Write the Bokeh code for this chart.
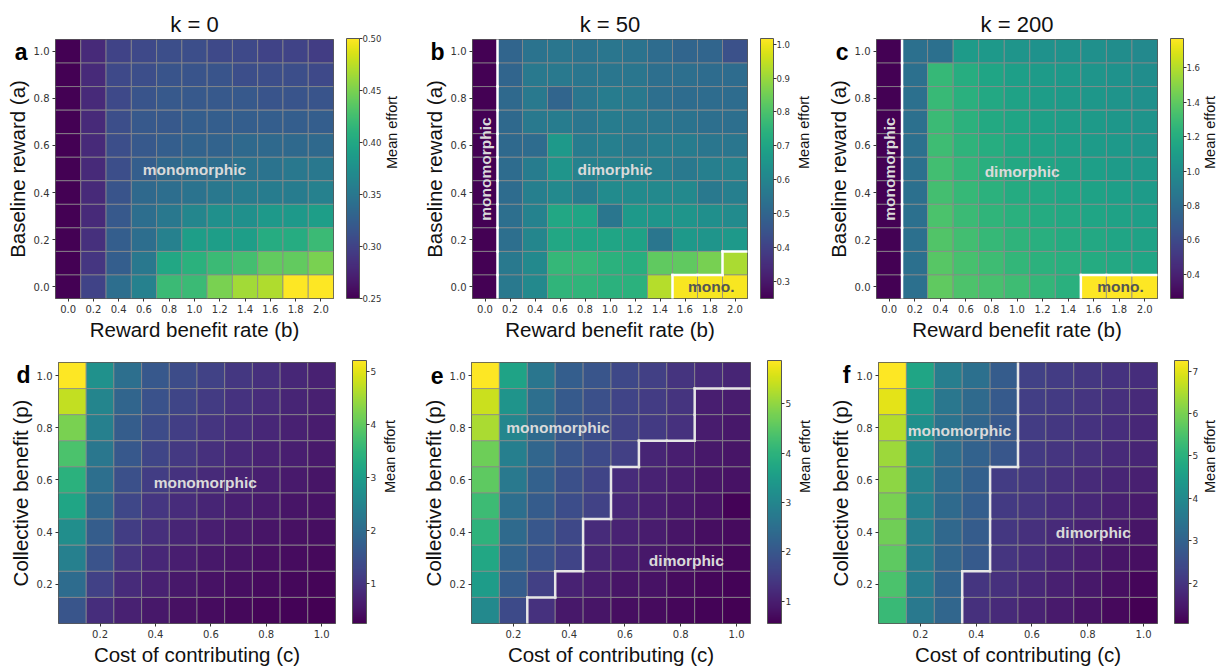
import math
from bokeh.plotting import figure
from bokeh.models import (ColumnDataSource, LinearColorMapper, ColorBar, FixedTicker,
                          Label, Range1d, LinearAxis, PrintfTickFormatter,
                          CustomJSTickFormatter)
from bokeh.palettes import Viridis256
from bokeh.layouts import column, row
from bokeh.embed import file_html
from bokeh.resources import INLINE

# ---------------- parameter values (cell centres) ----------------
reward_b = [0.0, 0.2, 0.4, 0.6, 0.8, 1.0, 1.2, 1.4, 1.6, 1.8, 2.0]
baseline_a = [0.0, 0.1, 0.2, 0.3, 0.4, 0.5, 0.6, 0.7, 0.8, 0.9, 1.0]
cost_c = [0.1, 0.2, 0.3, 0.4, 0.5, 0.6, 0.7, 0.8, 0.9, 1.0]
benefit_p = [0.1, 0.2, 0.3, 0.4, 0.5, 0.6, 0.7, 0.8, 0.9, 1.0]

ticks_b = [0.0, 0.2, 0.4, 0.6, 0.8, 1.0, 1.2, 1.4, 1.6, 1.8, 2.0]
ticks_a = [0.0, 0.2, 0.4, 0.6, 0.8, 1.0]
ticks_c = [0.2, 0.4, 0.6, 0.8, 1.0]
ticks_p = [0.2, 0.4, 0.6, 0.8, 1.0]

cbar_ticks_a = [0.25, 0.30, 0.35, 0.40, 0.45, 0.50]
cbar_ticks_b = [0.3, 0.4, 0.5, 0.6, 0.7, 0.8, 0.9, 1.0]
cbar_ticks_c = [0.4, 0.6, 0.8, 1.0, 1.2, 1.4, 1.6]
cbar_ticks_d = [1, 2, 3, 4, 5]
cbar_ticks_e = [1, 2, 3, 4, 5]
cbar_ticks_f = [2, 3, 4, 5, 6, 7]

# ---------------- mean effort (rows listed from top of panel to bottom) ----------------
# panel a: k = 0, rows a = 1.0 ... 0.0, columns b = 0.0 ... 2.0
effort_a = [
    [0.25, 0.28, 0.300, 0.305, 0.310, 0.310, 0.305, 0.305, 0.300, 0.300, 0.295],
    [0.25, 0.28, 0.305, 0.310, 0.315, 0.315, 0.315, 0.310, 0.310, 0.310, 0.305],
    [0.25, 0.28, 0.305, 0.315, 0.320, 0.320, 0.320, 0.320, 0.315, 0.315, 0.315],
    [0.25, 0.28, 0.310, 0.320, 0.320, 0.325, 0.325, 0.325, 0.325, 0.325, 0.325],
    [0.25, 0.28, 0.310, 0.320, 0.325, 0.330, 0.330, 0.335, 0.335, 0.335, 0.335],
    [0.25, 0.28, 0.310, 0.325, 0.335, 0.340, 0.340, 0.345, 0.345, 0.350, 0.350],
    [0.25, 0.28, 0.315, 0.335, 0.340, 0.345, 0.350, 0.355, 0.355, 0.355, 0.360],
    [0.25, 0.28, 0.320, 0.340, 0.350, 0.365, 0.375, 0.375, 0.385, 0.385, 0.390],
    [0.25, 0.285, 0.325, 0.340, 0.360, 0.390, 0.390, 0.390, 0.405, 0.405, 0.420],
    [0.25, 0.29, 0.325, 0.350, 0.400, 0.410, 0.420, 0.425, 0.440, 0.440, 0.450],
    [0.25, 0.30, 0.340, 0.360, 0.420, 0.420, 0.450, 0.465, 0.470, 0.500, 0.500],
]
# panel b: k = 50
effort_b = [
    [0.25, 0.50, 0.54, 0.55, 0.54, 0.55, 0.54, 0.52, 0.50, 0.50, 0.44],
    [0.25, 0.50, 0.56, 0.56, 0.55, 0.55, 0.55, 0.53, 0.53, 0.52, 0.52],
    [0.25, 0.51, 0.56, 0.50, 0.55, 0.57, 0.56, 0.53, 0.52, 0.52, 0.52],
    [0.25, 0.51, 0.56, 0.57, 0.55, 0.57, 0.56, 0.55, 0.54, 0.53, 0.53],
    [0.25, 0.51, 0.52, 0.66, 0.57, 0.58, 0.56, 0.57, 0.57, 0.55, 0.55],
    [0.25, 0.52, 0.57, 0.65, 0.59, 0.59, 0.59, 0.58, 0.56, 0.58, 0.59],
    [0.25, 0.52, 0.58, 0.61, 0.57, 0.62, 0.62, 0.61, 0.61, 0.56, 0.58],
    [0.25, 0.53, 0.59, 0.71, 0.70, 0.55, 0.66, 0.65, 0.65, 0.63, 0.62],
    [0.25, 0.53, 0.60, 0.71, 0.70, 0.70, 0.69, 0.55, 0.66, 0.65, 0.66],
    [0.25, 0.56, 0.61, 0.76, 0.76, 0.74, 0.73, 0.83, 0.83, 0.86, 0.92],
    [0.25, 0.56, 0.61, 0.75, 0.75, 0.74, 0.74, 0.93, 1.01, 1.01, 1.01],
]
# panel c: k = 200
effort_c = [
    [0.26, 0.82, 0.82, 1.09, 1.07, 1.05, 1.03, 1.03, 1.02, 1.00, 0.97],
    [0.26, 0.82, 1.27, 1.20, 1.15, 1.11, 1.09, 1.07, 1.05, 1.03, 1.00],
    [0.26, 0.82, 1.28, 1.22, 1.17, 1.13, 1.10, 1.08, 1.06, 1.04, 1.02],
    [0.26, 0.82, 1.29, 1.23, 1.18, 1.15, 1.12, 1.10, 1.08, 1.06, 1.04],
    [0.26, 0.82, 1.30, 1.24, 1.20, 1.16, 1.13, 1.11, 1.09, 1.07, 1.05],
    [0.26, 0.82, 1.31, 1.26, 1.21, 1.17, 1.15, 1.13, 1.11, 1.09, 1.07],
    [0.26, 0.82, 1.32, 1.27, 1.23, 1.19, 1.17, 1.15, 1.13, 1.11, 1.09],
    [0.26, 0.82, 1.34, 1.29, 1.25, 1.22, 1.19, 1.17, 1.15, 1.13, 1.11],
    [0.26, 0.82, 1.36, 1.31, 1.27, 1.24, 1.21, 1.19, 1.17, 1.15, 1.13],
    [0.26, 0.82, 1.38, 1.33, 1.30, 1.26, 1.23, 1.21, 1.19, 1.17, 1.15],
    [0.26, 0.82, 1.40, 1.35, 1.33, 1.30, 1.26, 1.22, 1.77, 1.77, 1.77],
]
# panel d: k = 0, rows p = 1.0 ... 0.1, columns c = 0.1 ... 1.0
effort_d = [
    [5.20, 2.75, 2.05, 1.60, 1.40, 1.22, 1.05, 0.92, 0.80, 0.70],
    [4.75, 2.50, 1.85, 1.48, 1.28, 1.10, 0.97, 0.86, 0.76, 0.67],
    [4.20, 2.40, 1.70, 1.38, 1.16, 1.00, 0.89, 0.79, 0.70, 0.62],
    [3.80, 2.20, 1.60, 1.27, 1.06, 0.92, 0.81, 0.72, 0.65, 0.58],
    [3.40, 2.05, 1.45, 1.15, 0.96, 0.83, 0.74, 0.66, 0.59, 0.53],
    [3.15, 1.90, 1.30, 1.02, 0.86, 0.75, 0.66, 0.59, 0.53, 0.48],
    [2.70, 1.70, 1.15, 0.91, 0.76, 0.66, 0.58, 0.52, 0.47, 0.43],
    [2.40, 1.50, 1.00, 0.80, 0.66, 0.56, 0.50, 0.45, 0.40, 0.37],
    [2.00, 1.20, 0.85, 0.69, 0.56, 0.48, 0.42, 0.38, 0.34, 0.31],
    [1.55, 0.88, 0.70, 0.56, 0.46, 0.40, 0.35, 0.31, 0.28, 0.25],
]
# panel e: k = 50
effort_e = [
    [5.88, 3.65, 2.65, 2.15, 1.95, 1.70, 1.55, 1.35, 1.20, 1.10],
    [5.45, 3.30, 2.50, 2.05, 1.85, 1.65, 1.50, 1.35, 1.00, 0.95],
    [5.20, 3.00, 2.40, 2.00, 1.80, 1.60, 1.45, 1.30, 0.95, 0.90],
    [4.70, 2.85, 2.30, 1.95, 1.75, 1.55, 1.10, 1.00, 0.90, 0.85],
    [4.55, 2.70, 2.20, 1.85, 1.65, 1.20, 1.05, 0.95, 0.85, 0.80],
    [4.20, 2.50, 2.10, 1.80, 1.60, 1.15, 1.00, 0.90, 0.80, 0.60],
    [4.00, 2.40, 2.00, 1.70, 1.20, 1.05, 0.95, 0.85, 0.75, 0.70],
    [3.75, 2.25, 1.90, 1.65, 1.10, 1.00, 0.90, 0.80, 0.70, 0.65],
    [3.50, 2.10, 1.55, 1.05, 0.95, 0.85, 0.80, 0.70, 0.65, 0.60],
    [3.05, 1.75, 1.30, 0.90, 0.85, 0.75, 0.70, 0.65, 0.60, 0.55],
]
# panel f: k = 200
effort_f = [
    [7.25, 4.70, 3.70, 3.35, 2.85, 2.25, 2.15, 2.05, 1.95, 1.85],
    [7.00, 4.40, 3.50, 3.20, 2.80, 2.20, 2.10, 2.00, 1.90, 1.80],
    [6.55, 4.15, 3.40, 3.10, 2.75, 2.15, 2.05, 1.95, 1.85, 1.75],
    [6.35, 4.00, 3.30, 3.00, 2.70, 2.10, 2.00, 1.90, 1.80, 1.70],
    [6.20, 3.85, 3.25, 2.95, 2.15, 2.05, 1.90, 1.80, 1.70, 1.60],
    [6.00, 3.80, 3.20, 2.90, 2.10, 2.00, 1.85, 1.75, 1.60, 1.50],
    [5.90, 3.75, 3.15, 2.85, 2.05, 1.90, 1.80, 1.65, 1.50, 1.40],
    [5.70, 3.70, 3.10, 2.80, 2.00, 1.85, 1.70, 1.55, 1.40, 1.30],
    [5.50, 3.70, 3.05, 2.00, 1.90, 1.75, 1.60, 1.45, 1.30, 1.15],
    [5.25, 3.55, 3.10, 1.90, 1.80, 1.65, 1.50, 1.35, 1.20, 1.05],
]

# ---------------- regime of each cell (M = monomorphic, D = dimorphic) ----------------
regime_a = ["MMMMMMMMMMM"] * 11
regime_b = ["MDDDDDDDDDD"] * 9 + ["MDDDDDDDDDM", "MDDDDDDDMMM"]
regime_c = ["MDDDDDDDDDD"] * 10 + ["MDDDDDDDMMM"]
regime_d = ["MMMMMMMMMM"] * 10
regime_e = ["MMMMMMMMMM", "MMMMMMMMDD", "MMMMMMMMDD", "MMMMMMDDDD", "MMMMMDDDDD",
            "MMMMMDDDDD", "MMMMDDDDDD", "MMMMDDDDDD", "MMMDDDDDDD", "MMDDDDDDDD"]
regime_f = ["MMMMMDDDDD", "MMMMMDDDDD", "MMMMMDDDDD", "MMMMMDDDDD", "MMMMDDDDDD",
            "MMMMDDDDDD", "MMMMDDDDDD", "MMMMDDDDDD", "MMMDDDDDDD", "MMMDDDDDDD"]

LIGHT = "#dadada"
DARK = "#555555"
AX_FONT = "Liberation Sans"
TICK_FONT = "DejaVu Sans"


def panel(xvals, yvals, grid, regime, low, high, cticks, cfmt, xticks, yticks,
          xlabel, ylabel, letter, title, W, H, L, R, T, B, bcolor, texts, me_standoff,
          cb_style):
    dx = round(xvals[1] - xvals[0], 6)
    dy = round(yvals[1] - yvals[0], 6)
    nr = len(grid)
    xs, ys, vs = [], [], []
    for i, r in enumerate(grid):
        yv = yvals[nr - 1 - i]
        for j, v in enumerate(r):
            xs.append(xvals[j]); ys.append(yv); vs.append(v)
    src = ColumnDataSource(dict(x=xs, y=ys, v=vs))
    mapper = LinearColorMapper(palette=Viridis256, low=low, high=high)
    x0, x1 = xvals[0] - dx / 2, xvals[-1] + dx / 2
    y0, y1 = yvals[0] - dy / 2, yvals[-1] + dy / 2
    fw, fh = W - L - R, H - T - B

    kw = dict(width=W, height=H, x_range=Range1d(x0, x1), y_range=Range1d(y0, y1),
              output_backend="svg", toolbar_location=None,
              min_border_left=L, min_border_right=R, min_border_top=T, min_border_bottom=B)
    if title:
        kw["title"] = title
    p = figure(**kw)
    if title:
        p.title.align = "center"
        p.title.text_font = AX_FONT
        p.title.text_font_size = "22px"
        p.title.text_font_style = "normal"
        p.title.text_color = "#111111"
        p.title.standoff = 6
    p.grid.visible = False
    p.outline_line_color = "#333333"
    p.outline_line_width = 1
    p.background_fill_color = "white"

    p.rect(x="x", y="y", width=dx, height=dy, source=src,
           fill_color={"field": "v", "transform": mapper},
           line_color="#8a8a8a", line_width=1, line_alpha=0.75)

    # regime boundaries
    sx0, sy0, sx1, sy1 = [], [], [], []
    for i in range(nr):
        yv = yvals[nr - 1 - i]
        for j in range(len(regime[i])):
            xv = xvals[j]
            if j + 1 < len(regime[i]) and regime[i][j] != regime[i][j + 1]:
                sx0.append(xv + dx / 2); sx1.append(xv + dx / 2)
                sy0.append(yv - dy / 2); sy1.append(yv + dy / 2)
            if i + 1 < nr and regime[i][j] != regime[i + 1][j]:
                sx0.append(xv - dx / 2); sx1.append(xv + dx / 2)
                sy0.append(yv - dy / 2); sy1.append(yv - dy / 2)
    if sx0:
        p.segment(sx0, sy0, sx1, sy1, line_color=bcolor, line_width=2.5, line_cap="square")

    for ax in (p.xaxis[0], p.yaxis[0]):
        ax.axis_line_color = None
        ax.major_tick_line_color = "#333333"
        ax.major_tick_out = 3
        ax.major_tick_in = 0
        ax.minor_tick_line_color = None
        ax.major_label_text_font = TICK_FONT
        ax.major_label_text_font_size = "10px"
        ax.major_label_text_color = "#333333"
        ax.major_label_standoff = 3
        ax.axis_label_text_font = AX_FONT
        ax.axis_label_text_font_size = "20.5px"
        ax.axis_label_text_font_style = "normal"
        ax.axis_label_text_color = "#111111"
        ax.axis_label_standoff = 2
        ax.formatter = PrintfTickFormatter(format="%.1f")
    p.xaxis.ticker = FixedTicker(ticks=xticks)
    p.yaxis.ticker = FixedTicker(ticks=yticks)
    p.xaxis.axis_label = xlabel
    p.yaxis.axis_label = ylabel

    gap, bar_w, lab_size, lab_standoff = cb_style
    cb = ColorBar(color_mapper=mapper, ticker=FixedTicker(ticks=cticks),
                  formatter=PrintfTickFormatter(format=cfmt),
                  width=bar_w, height=fh, padding=0, margin=0, location=(gap, 0),
                  major_label_text_font=TICK_FONT, major_label_text_font_size=lab_size,
                  major_label_text_color="#333333",
                  major_tick_out=3, major_tick_in=0, major_tick_line_color="#333333",
                  minor_tick_line_color=None, bar_line_color="#555555",
                  label_standoff=lab_standoff, background_fill_alpha=0,
                  border_line_color=None)
    p.add_layout(cb, "right")

    # colour-bar caption as the label of an extra, tick-less right axis
    me = LinearAxis(axis_label="Mean effort", ticker=FixedTicker(ticks=[]),
                    axis_line_color=None, major_tick_line_color=None,
                    minor_tick_line_color=None, major_tick_out=0, major_tick_in=0,
                    major_label_standoff=0,
                    axis_label_text_font=AX_FONT, axis_label_text_font_size="14.5px",
                    axis_label_text_font_style="normal", axis_label_text_color="#111111",
                    axis_label_standoff=me_standoff)
    if hasattr(me, "axis_label_orientation"):
        me.axis_label_orientation = math.pi / 2
    p.add_layout(me, "right")

    # panel letter, drawn as the single tick label of an extra left axis
    ppy = fh / (y1 - y0)
    lt = LinearAxis(ticker=FixedTicker(ticks=[y1 - 13 / ppy]),
                    formatter=CustomJSTickFormatter(code="return '%s';" % letter),
                    axis_line_color=None, major_tick_line_color=None,
                    minor_tick_line_color=None, major_tick_out=0, major_tick_in=0,
                    major_label_standoff=-25,
                    major_label_text_font=AX_FONT, major_label_text_font_style="bold",
                    major_label_text_font_size="23px", major_label_text_color="#000000")
    p.add_layout(lt, "left")

    for (t, tx, ty, ang, col) in texts:
        p.add_layout(Label(x=tx, y=ty, text=t, angle=ang, text_align="center",
                           text_baseline="middle", text_font=AX_FONT,
                           text_font_style="bold", text_font_size="15.5px", text_color=col))
    return p


V = math.pi / 2
TOP_CB = (13, 13, "8.5px", 0)
BOT_CB = (17, 14, "9px", 1)
pa = panel(reward_b, baseline_a, effort_a, regime_a, 0.25, 0.50, cbar_ticks_a, "%.2f",
           ticks_b, ticks_a, "Reward benefit rate (b)", "Baseline reward (a)", "a", "k = 0",
           410, 343, 55, 76, 39, 44, "white",
           [("monomorphic", 1.0, 0.5, 0, LIGHT)], 7, TOP_CB)
pb = panel(reward_b, baseline_a, effort_b, regime_b, 0.249, 1.017, cbar_ticks_b, "%.1f",
           ticks_b, ticks_a, "Reward benefit rate (b)", "Baseline reward (a)", "b", "k = 50",
           412, 343, 62, 74, 39, 44, "white",
           [("monomorphic", 0.0, 0.5, V, LIGHT), ("dimorphic", 1.04, 0.5, 0, LIGHT),
            ("mono.", 1.81, 0.0, 0, DARK)], 10, TOP_CB)
pc = panel(reward_b, baseline_a, effort_c, regime_c, 0.26, 1.77, cbar_ticks_c, "%.1f",
           ticks_b, ticks_a, "Reward benefit rate (b)", "Baseline reward (a)", "c", "k = 200",
           406, 343, 54, 70, 39, 44, "white",
           [("monomorphic", 0.0, 0.5, V, LIGHT), ("dimorphic", 1.04, 0.49, 0, LIGHT),
            ("mono.", 1.81, 0.0, 0, DARK)], 6, TOP_CB)
pd_ = panel(cost_c, benefit_p, effort_d, regime_d, 0.24, 5.2, cbar_ticks_d, "%d",
            ticks_c, ticks_p, "Cost of contributing (c)", "Collective benefit (p)", "d", None,
            408, 325, 58, 69, 19, 43, "#e6e6e6",
            [("monomorphic", 0.58, 0.59, 0, LIGHT)], 10, BOT_CB)
pe = panel(cost_c, benefit_p, effort_e, regime_e, 0.55, 5.88, cbar_ticks_e, "%d",
           ticks_c, ticks_p, "Cost of contributing (c)", "Collective benefit (p)", "e", None,
           415, 325, 63, 69, 19, 43, "#e6e6e6",
           [("monomorphic", 0.36, 0.80, 0, LIGHT), ("dimorphic", 0.82, 0.29, 0, LIGHT)], 10,
           BOT_CB)
pf = panel(cost_c, benefit_p, effort_f, regime_f, 1.05, 7.25, cbar_ticks_f, "%d",
           ticks_c, ticks_p, "Cost of contributing (c)", "Collective benefit (p)", "f", None,
           405, 325, 55, 67, 19, 43, "#e6e6e6",
           [("monomorphic", 0.34, 0.79, 0, LIGHT), ("dimorphic", 0.82, 0.40, 0, LIGHT)], 8,
           BOT_CB)

layout = column(row(pa, pb, pc, spacing=0), row(pd_, pe, pf, spacing=0), spacing=0)
open("out.html", "w").write(file_html(layout, INLINE))
